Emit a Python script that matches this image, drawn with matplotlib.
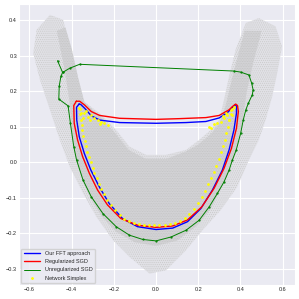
import matplotlib
matplotlib.use("Agg")
import matplotlib.pyplot as plt
import seaborn as sns

# outline of the gray sample cloud
cloud_x = [-0.503, -0.440, -0.409, -0.385, -0.354, -0.267, -0.189, -0.126, -0.047, 0.047,
           0.142, 0.204, 0.259, 0.299, 0.322, 0.346, 0.377, 0.425, 0.487, 0.566,
           0.597, 0.574, 0.550, 0.519, 0.487, 0.440, 0.385, 0.307, 0.220, 0.142,
           0.047, -0.031, -0.126, -0.204, -0.283, -0.346, -0.409, -0.456, -0.503, -0.550,
           -0.582, -0.566]
cloud_y = [0.415, 0.401, 0.317, 0.242, 0.176, 0.138, 0.091, 0.044, 0.021, 0.021,
           0.035, 0.063, 0.091, 0.119, 0.176, 0.242, 0.317, 0.392, 0.406, 0.383,
           0.326, 0.251, 0.185, 0.119, 0.063, 0.007, -0.069, -0.134, -0.191, -0.247,
           -0.304, -0.313, -0.266, -0.219, -0.153, -0.087, -0.012, 0.063, 0.148, 0.232,
           0.307, 0.373]

# denser band of the cloud along the U
core_x = [-0.47, -0.43, -0.41, -0.40, -0.385, -0.36, -0.32, -0.26, -0.19, -0.10,
          0.0, 0.10, 0.19, 0.26, 0.32, 0.36, 0.39, 0.41, 0.43, 0.46, 0.50,
          0.42, 0.37, 0.33, 0.30, 0.26, 0.20, 0.14, 0.05, -0.05, -0.13,
          -0.19, -0.26, -0.34, -0.37, -0.40, -0.43]
core_y = [0.37, 0.25, 0.17, 0.10, 0.03, -0.03, -0.09, -0.15, -0.195, -0.225,
          -0.235, -0.22, -0.18, -0.13, -0.06, 0.00, 0.06, 0.12, 0.20, 0.28, 0.37,
          0.37, 0.26, 0.16, 0.11, 0.08, 0.05, 0.03, 0.01, 0.01, 0.035,
          0.08, 0.125, 0.17, 0.24, 0.32, 0.38]

fft_x = [-0.365, -0.377, -0.376, -0.364, -0.340, -0.309, -0.269, -0.222, -0.159, -0.088,
         0.0, 0.079, 0.149, 0.212, 0.267, 0.314, 0.346, 0.369, 0.381, 0.381,
         0.374, 0.358, 0.338, 0.299, 0.236, 0.142, 0.0, -0.173, -0.267, -0.307,
         -0.338, -0.357, -0.365]
fft_y = [0.164, 0.155, 0.119, 0.072, 0.025, -0.022, -0.069, -0.116, -0.158, -0.181,
         -0.189, -0.185, -0.167, -0.130, -0.078, -0.022, 0.035, 0.091, 0.138, 0.159,
         0.162, 0.152, 0.140, 0.125, 0.115, 0.112, 0.110, 0.112, 0.119, 0.131,
         0.152, 0.163, 0.164]

reg_x = [-0.378, -0.390, -0.388, -0.372, -0.348, -0.316, -0.277, -0.230, -0.167, -0.088,
         0.0, 0.079, 0.149, 0.217, 0.275, 0.322, 0.357, 0.381, 0.390, 0.386,
         0.377, 0.362, 0.346, 0.299, 0.236, 0.110, 0.0, -0.173, -0.267, -0.307,
         -0.338, -0.362, -0.378]
reg_y = [0.172, 0.160, 0.110, 0.063, 0.016, -0.031, -0.078, -0.120, -0.158, -0.177,
         -0.183, -0.179, -0.162, -0.125, -0.073, -0.017, 0.039, 0.096, 0.143, 0.160,
         0.164, 0.157, 0.148, 0.132, 0.126, 0.123, 0.121, 0.124, 0.132, 0.143,
         0.161, 0.172, 0.172]

unreg_x = [-0.467, -0.443, -0.409, -0.362, 0.369, 0.401, 0.440, 0.453, 0.460, 0.456,
           0.437, 0.425, 0.413, 0.401, 0.380, 0.362, 0.346, 0.322, 0.291, 0.252,
           0.204, 0.142, 0.071, 0.0, -0.063, -0.126, -0.189, -0.252, -0.307, -0.346,
           -0.377, -0.390, -0.406, -0.417, -0.461, -0.459, -0.451, -0.443]
unreg_y = [0.286, 0.253, 0.265, 0.276, 0.257, 0.254, 0.246, 0.223, 0.204, 0.190,
           0.166, 0.147, 0.119, 0.082, 0.035, 0.007, -0.022, -0.055, -0.087, -0.125,
           -0.163, -0.191, -0.210, -0.221, -0.217, -0.205, -0.181, -0.144, -0.097, -0.050,
           0.007, 0.044, 0.110, 0.159, 0.178, 0.215, 0.242, 0.253]

simplex_x = [-0.362, -0.360, -0.357, -0.353, -0.349, -0.344, -0.338, -0.332, -0.325, -0.318,
             -0.310, -0.301, -0.292, -0.282, -0.271, -0.259, -0.246, -0.232, -0.215, -0.195,
             -0.173, -0.150, -0.127, -0.104, -0.080, -0.056, -0.032, -0.008, 0.016, 0.040,
             0.064, 0.088, 0.112, 0.135, 0.158, 0.180, 0.200, 0.218, 0.234, 0.248,
             0.261, 0.273, 0.285, 0.296, 0.306, 0.316, 0.325, 0.333, 0.341, 0.348,
             0.355, 0.360,
             -0.363, -0.340, -0.324, -0.292, -0.261, -0.230, -0.356, -0.348, -0.308, -0.277,
             -0.245, -0.332, -0.315, -0.268,
             0.354, 0.338, 0.322, 0.307, 0.275, 0.251, 0.361, 0.346, 0.290, 0.369,
             0.330, 0.262, 0.315]
simplex_y = [0.150, 0.135, 0.120, 0.105, 0.090, 0.075, 0.060, 0.045, 0.030, 0.015,
             0.000, -0.015, -0.030, -0.045, -0.060, -0.075, -0.090, -0.105, -0.120, -0.135,
             -0.148, -0.158, -0.165, -0.170, -0.173, -0.175, -0.176, -0.177, -0.177, -0.176,
             -0.174, -0.170, -0.164, -0.156, -0.145, -0.130, -0.114, -0.097, -0.080, -0.062,
             -0.045, -0.027, -0.009, 0.010, 0.028, 0.046, 0.064, 0.082, 0.100, 0.118,
             0.136, 0.150,
             0.152, 0.138, 0.128, 0.124, 0.114, 0.105, 0.138, 0.124, 0.133, 0.119,
             0.110, 0.145, 0.120, 0.108,
             0.147, 0.133, 0.124, 0.114, 0.107, 0.100, 0.133, 0.119, 0.110, 0.157,
             0.140, 0.096, 0.130]

xticks = [-0.6, -0.4, -0.2, 0.0, 0.2, 0.4, 0.6]
yticks = [-0.3, -0.2, -0.1, 0.0, 0.1, 0.2, 0.3, 0.4]

sns.set_style("darkgrid")
plt.rcParams['font.family'] = ['Liberation Sans', 'DejaVu Sans']
plt.rcParams['hatch.linewidth'] = 0.5

fig = plt.figure(figsize=(2.99, 2.99), dpi=100)
ax = fig.add_axes([0.064, 0.047, 0.923, 0.94])

# point cloud: light fill with a dotted hatch, denser band on top
ax.fill(cloud_x, cloud_y, facecolor='#e1e1e6', edgecolor='#cbcbcb', linewidth=0,
        hatch='........', zorder=1)
ax.fill(core_x, core_y, facecolor='#d4d4d7', edgecolor='#c2c2c2', linewidth=0,
        hatch='..........', zorder=1.5)

ax.plot(fft_x, fft_y, color='blue', lw=1.0, label='Our FFT approach', zorder=3)
ax.plot(reg_x, reg_y, color='red', lw=1.0, label='Regularized SGD', zorder=3)
ax.plot(unreg_x, unreg_y, color='green', lw=0.7, label='Unregularized SGD', zorder=3)
ax.plot(unreg_x, unreg_y, color='green', lw=0, marker='.', markersize=1.2, zorder=3)
ax.scatter(simplex_x, simplex_y, color='yellow', s=4, marker='o', linewidths=0,
           label='Network Simplex', zorder=4)

ax.set_xlim(-0.649, 0.659)
ax.set_ylim(-0.345, 0.446)
ax.set_xticks(xticks)
ax.set_yticks(yticks)
ax.tick_params(labelsize=4, pad=1.5, length=0)
ax.grid(color='white', linewidth=0.8)

ax.legend(loc='lower left', fontsize=4, handlelength=3, labelspacing=0.55,
          borderpad=0.5, borderaxespad=0.3, scatterpoints=1)

fig.savefig("out.png", dpi=100)
